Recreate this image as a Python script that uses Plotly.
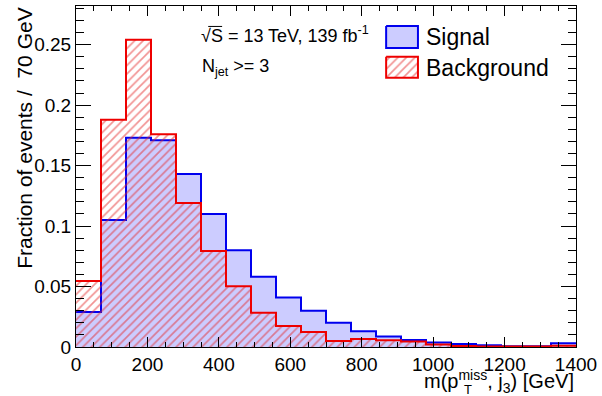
import plotly.graph_objects as go

# ---- data ----
bin_edges = [0, 70, 140, 210, 280, 350, 420, 490, 560, 630, 700, 770, 840,
             910, 980, 1050, 1120, 1190, 1260, 1330, 1400]
signal = [0.029, 0.105, 0.173, 0.171, 0.143, 0.110, 0.080, 0.058, 0.041, 0.030,
          0.020, 0.013, 0.0087, 0.0057, 0.0037, 0.0025, 0.0015, 0.0007, 0.0006, 0.003]
background = [0.0545, 0.188, 0.254, 0.176, 0.119, 0.0793, 0.0502, 0.0284, 0.0173, 0.0124,
              0.005, 0.0066, 0.0055, 0.0045, 0.002, 0.0009, 0.0005, 0.0005, 0.0005, 0.001]
x_ticks = [0, 200, 400, 600, 800, 1000, 1200, 1400]
y_ticks = [0, 0.05, 0.1, 0.15, 0.2, 0.25]
y_tick_text = ["0", "0.05", "0.1", "0.15", "0.2", "0.25"]
legend_names = ["Signal", "Background"]

W, H = 602, 396
L, R, T, B = 76, 23, 5, 49
pw, ph = W - L - R, H - T - B

def px_x(p):
    return (p - L) / pw

def px_y(p):
    return (H - B - p) / ph

FONT = "Liberation Sans, Arial, sans-serif"
SIG_LINE, SIG_FILL = "#0000ee", "rgb(204,204,255)"
BKG_LINE = "#ee0000"
BKG_PATTERN = dict(shape="/", fgcolor="rgb(228,40,40)", bgcolor="rgba(0,0,0,0)",
                   size=6, solidity=0.28)

fig = go.Figure()
fig.add_trace(go.Scatter(
    x=bin_edges, y=signal + [signal[-1]], mode="lines", line_shape="hv",
    line=dict(color=SIG_LINE, width=2), fill="tozeroy",
    fillcolor=SIG_FILL, name=legend_names[0], showlegend=False))
fig.add_trace(go.Scatter(
    x=bin_edges, y=background + [background[-1]], mode="lines", line_shape="hv",
    line=dict(color=BKG_LINE, width=2), fill="tozeroy",
    fillcolor="rgba(0,0,0,0)", fillpattern=BKG_PATTERN,
    name=legend_names[1], showlegend=False))

# legend swatches drawn on a hidden overlay axis in pixel units
def box(x0, y0, x1, y1):
    return [x0, x1, x1, x0, x0], [y0, y0, y1, y1, y0]

bx, by = box(388, 25, 420, 47)
fig.add_trace(go.Scatter(x=bx, y=by, xaxis="x2", yaxis="y2", mode="lines",
                         fill="toself", fillcolor=SIG_FILL,
                         line=dict(color=SIG_LINE, width=2), showlegend=False,
                         hoverinfo="skip"))
bx, by = box(388, 56, 420, 77)
fig.add_trace(go.Scatter(x=bx, y=by, xaxis="x2", yaxis="y2", mode="lines",
                         fill="toself", fillcolor="rgba(0,0,0,0)",
                         fillpattern=BKG_PATTERN,
                         line=dict(color=BKG_LINE, width=2), showlegend=False,
                         hoverinfo="skip"))
# overline of the square-root sign
fig.add_trace(go.Scatter(x=[209, 223], y=[25.5, 25.5], xaxis="x2", yaxis="y2",
                         mode="lines", line=dict(color="black", width=1),
                         showlegend=False, hoverinfo="skip"))

axis_common = dict(showgrid=False, zeroline=False, showline=True, linecolor="black",
                   linewidth=1, mirror="allticks", ticks="inside", tickcolor="black",
                   tickfont=dict(family=FONT, size=19, color="black"))
fig.update_layout(
    xaxis=dict(range=[0, 1400], tickvals=x_ticks, ticklen=10,
               minor=dict(dtick=50, ticklen=5, ticks="inside", tickcolor="black"),
               **axis_common),
    yaxis=dict(range=[0, 0.282], tickvals=y_ticks, ticktext=y_tick_text, ticklen=15,
               minor=dict(dtick=0.01, ticklen=8, ticks="inside", tickcolor="black"),
               **axis_common),
    xaxis2=dict(range=[L, W - R], overlaying="x", anchor="y2", visible=False),
    yaxis2=dict(range=[H - B, T], overlaying="y", anchor="x2", visible=False),
)

ann = [
    dict(text="Fraction of events /  70 GeV", x=px_x(24), y=px_y(5), textangle=-90,
         xanchor="center", yanchor="top", font=dict(size=21)),
    dict(text="m(p<sup>miss</sup>, j<sub>3</sub>) [GeV]", x=px_x(579), y=px_y(382),
         xanchor="right", yanchor="middle", font=dict(size=20)),
    dict(text="T", x=px_x(464), y=px_y(390), xanchor="left", yanchor="middle",
         font=dict(size=13)),
    dict(text="√S = 13 TeV, 139 fb<sup>-1</sup>",
         x=px_x(200), y=px_y(34), xanchor="left", yanchor="middle", font=dict(size=18)),
    dict(text="N<sub>jet</sub> &gt;= 3", x=px_x(201), y=px_y(67),
         xanchor="left", yanchor="middle", font=dict(size=18)),
    dict(text=legend_names[0], x=px_x(426), y=px_y(36), xanchor="left",
         yanchor="middle", font=dict(size=23)),
    dict(text=legend_names[1], x=px_x(426), y=px_y(67), xanchor="left",
         yanchor="middle", font=dict(size=23)),
]
for a in ann:
    a.update(xref="paper", yref="paper", showarrow=False)
    a["font"].update(family=FONT, color="black")

fig.update_layout(
    width=W, height=H, margin=dict(l=L, r=R, t=T, b=B),
    plot_bgcolor="white", paper_bgcolor="white",
    annotations=ann, showlegend=False,
)
fig.write_html("out.html", config={"displayModeBar": False},
               post_script="document.body.style.margin='0';")
